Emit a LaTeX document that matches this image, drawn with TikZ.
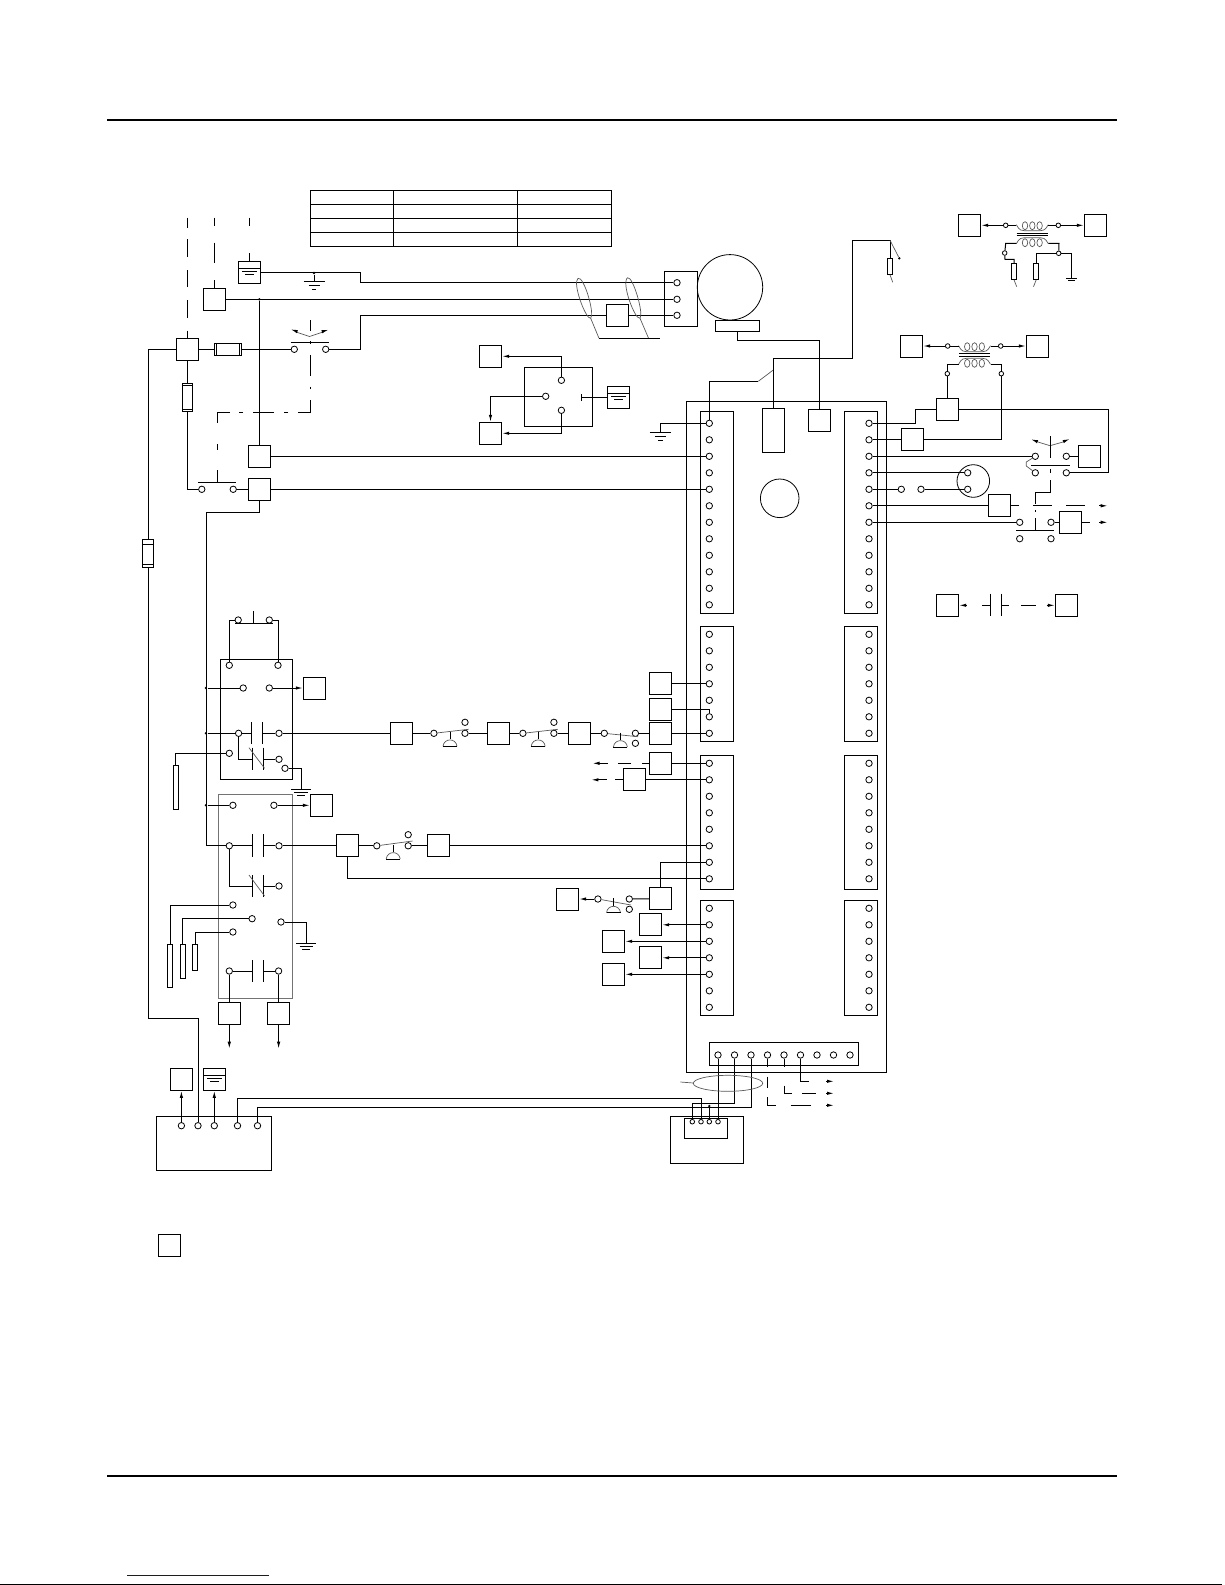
\documentclass[tikz,border=0pt]{standalone}
\usepackage{tikz}
\usetikzlibrary{arrows.meta,positioning,calc}
\tikzset{
  bx/.style={draw,rectangle,inner sep=0pt,minimum width=22.4pt,minimum height=22pt},
  rc/.style={draw,rectangle,inner sep=0pt},
  term/.style={draw,circle,inner sep=0pt,minimum size=6.4pt,line width=.8pt,fill=white},
  sterm/.style={draw,circle,inner sep=0pt,minimum size=4.6pt,line width=.8pt,fill=white},
  dot/.style={fill,circle,inner sep=0pt,minimum size=2.6pt},
  thinw/.style={line width=.7pt,black!65},
  tip/.style={-{Latex[length=7pt,width=3.4pt]}},
  gnd/.pic={\draw (-10.5,0)--(10.5,0) (-5.5,4.5)--(5.5,4.5) (-2.2,8.5)--(2.2,8.5);},
  gndb/.pic={\draw (-10,0)--(10,0) (-6.7,3)--(6.7,3) (-4,6)--(4,6);},
  gndc/.pic={\draw (-5.3,0)--(5.3,0) (-3.6,2)--(3.6,2);},
  tank/.pic={\draw (-11.2,-4)--(11.2,-4);\draw (-7.5,-.5)--(7.5,-.5) (-4.3,2.5)--(4.3,2.5);},
  dome/.pic={\draw (0,-7.5)--(0,0);\draw[thinw] (-7,7)..controls (-6,-1.5) and (6,-1.5)..(7,7);\draw[line width=.7pt] (-7,7)--(7,7);},
  coil/.pic={\draw[thinw] (-16,-1)..controls (-13,5) and (-10,5)..(-8,5)--(8,5)..controls (10,5) and (13,5)..(16,-1);
    \draw[thinw] (-7.3,0) ellipse (2.7 and 4) (0,0) ellipse (2.7 and 4) (7.3,0) ellipse (2.7 and 4);},
}
\begin{document}
\begin{tikzpicture}[x=1pt,y=-1pt,line width=1pt]
      \useasboundingbox (0,0) rectangle (1225,1585);
      \draw[line width=2pt] (107,120) -- (1117,120);
      \draw[line width=2pt] (107,1476) -- (1117,1476);
      \draw[line width=1.2pt] (0,1584.3) -- (1222,1584.3);
      \draw[blue,line width=1pt] (127,1575.3) -- (268.7,1575.3);
      \node[bx] (key) at (169.5,1245.5){};

      \draw (310.4,190) rectangle (611.8,246.7);
      \draw (310.4,204.3) -- (611.8,204.3) (310.4,218.3) -- (611.8,218.3) (310.4,232.3) -- (611.8,232.3);
      \draw (393.2,190) -- (393.2,246.7) (517.5,190) -- (517.5,246.7);

      \draw (187.5,217.7) -- (187.5,227.7) (187.5,239) -- (187.5,256.7) (187.5,270) -- (187.5,287) (187.5,300) -- (187.5,318) (187.5,330.7) -- (187.5,338);
      \draw (214.6,217.7) -- (214.6,226) (214.6,242.7) -- (214.6,263.3) (214.6,280) -- (214.6,288.3);
      \draw (249.6,217.7) -- (249.6,226) (249.6,253.3) -- (249.6,261.3);

      \node[bx] (pe1) at (249.5,272.3){};
      \pic at (pe1) {tank};
      \node[bx] (b1) at (214.5,299.3){};
      \node[bx] (b2) at (187.5,349.3){};
      \node[bx] (b3) at (259.3,456.3){};
      \node[bx] (b4) at (259.3,489.3){};
      \node[bx] (b5) at (617.5,315.3){};
      \node[rc,minimum width=27.5pt,minimum height=11.4pt] (fu1) at (228,349.3){};
      \node[rc,minimum width=10pt,minimum height=28pt] (fu2) at (187.5,397.3){};
      \node[rc,minimum width=11pt,minimum height=27.7pt] (fu3) at (148.2,553.8){};
      \draw (216.4,344) -- (216.4,355) (239.6,344) -- (239.6,355);
      \draw (183,385.7) -- (192,385.7) (183,409) -- (192,409);
      \draw (143,544) -- (153.5,544) (143,564) -- (153.5,564);

      \node[term] (sw1a) at (294.3,349.3){};
      \node[term] (sw1b) at (325.7,349.3){};
      \node[term] (sw2a) at (201.8,489.3){};
      \node[term] (sw2b) at (233.2,489.3){};
      \node[term] (tm1) at (677,282.7){};
      \node[term] (tm2) at (677,299.3){};
      \node[term] (tm3) at (677,315.3){};
      \node[dot] (j1) at (259.3,299.3){};
      \node[dot] (j2) at (314,273){};
      \draw (664.3,271) rectangle (697.7,326.3);
      \node[draw,circle,line width=.8pt,minimum size=65.4pt] (mot) at (730,287.3){};
      \node[rc,minimum width=44.4pt,minimum height=11.4pt] (mbase) at (737.5,326){};

      \draw (pe1) -- (360.4,272.3) -- (360.4,282.7) -- (tm1);
      \draw (j2) -- (314,281);
      \pic at (314,281) {gnd};
      \draw (b1) -- (tm2);
      \draw (j1) -- (b3);
      \draw (sw1b) -- (360.4,349.3) -- (360.4,315.3) -- (b5);
      \draw (b5) -- (tm3);
      \draw (b2) -- (fu1);
      \draw (fu1) -- (sw1a);
      \draw (b2) -- (fu2);
      \draw (fu2) |- (sw2a);
      \draw (sw2b) -- (b4);
      \draw (b2) -- (148.2,349.3) -- (fu3);
      \draw (290.7,342.3) -- (328.6,342.3);
      \draw (197.9,482.3) -- (236,482.3);
      \draw[thinw] (296,332) -- (309.6,336.5) -- (323,332);
      \draw[tip] (297,331.5) -- (290.7,329.3);
      \draw[tip] (322.5,331.5) -- (328.6,329.7);
      \draw (310.4,320) -- (310.4,330.7) (310.4,341) -- (310.4,343.5) (310.4,355) -- (310.4,376) (310.4,386.7) -- (310.4,389.3);
      \draw (310.4,400) -- (310.4,412.3) -- (298.3,412.3) (288.3,412.3) -- (284,412.3) (274,412.3) -- (253.3,412.3) (243,412.3) -- (239,412.3);
      \draw (230,412.3) -- (217.3,412.3) -- (217.3,423.3) (217.3,444) -- (217.3,450) (217.3,470) -- (217.3,482.3);

      \draw[thinw] (578,278.3) .. controls (572,283) and (586,320) .. (590.7,318.3) .. controls (595,314) and (584,276) .. (578,278.3);
      \draw[thinw] (627.5,277.7) .. controls (621,283) and (635,320) .. (640,318.3) .. controls (644,314) and (633,276) .. (627.5,277.7);
      \draw[thinw] (590.7,318.3) -- (599,338.3);
      \draw[thinw] (640,318.3) -- (648.6,338.3);
      \draw (599,338.3) -- (659.6,338.3);

      \draw (524.3,367.3) rectangle (592.5,426.3);
      \node[term] (ry1) at (561.4,380.3){};
      \node[term] (ry2) at (545.7,396.3){};
      \node[term] (ry3) at (561.4,410.3){};
      \node[bx] (pe2) at (618.5,397.3){};
      \pic at (pe2) {tank};
      \node[bx] (b6) at (490.5,356.3){};
      \node[bx] (b7) at (490.5,433.3){};
      \coordinate (rt) at (581.8,397.3);
      \draw (581.8,394) -- (581.8,400.7);
      \draw (rt) -- (pe2);
      \draw[tip] (ry1) -- (561.4,356.3) -- (b6);
      \draw[tip] (ry2) -| (b7);
      \draw[tip] (ry3) -- (561.4,433.3) -- (b7);

      \draw (686.3,401.3) rectangle (886.5,1072.3);
      \foreach \sx in {700.3,844.3}{
        \draw (\sx,411.3) rectangle (\sx+33,613.3);
        \draw (\sx,626.6) rectangle (\sx+33,741);
        \draw (\sx,755.3) rectangle (\sx+33,889.4);
        \draw (\sx,900.3) rectangle (\sx+33,1015.3);
      }
      \foreach \i in {0,...,11}{
        \node[term] (la\i) at (709.3,423.3+16.5*\i){};
        \node[term] (ra\i) at (869,423.3+16.5*\i){};
      }
      \foreach \i in {0,...,6}{
        \node[term] (lb\i) at (709.3,634.3+16.5*\i){};
        \node[term] (rb\i) at (869,634.3+16.5*\i){};
        \node[term] (ld\i) at (709.3,908.3+16.5*\i){};
        \node[term] (rd\i) at (869,908.3+16.5*\i){};
      }
      \foreach \i in {0,...,7}{
        \node[term] (lc\i) at (709.3,763.3+16.5*\i){};
        \node[term] (rc\i) at (869,763.3+16.5*\i){};
      }
      \draw (709.3,1042.3) rectangle (858.7,1065.3);
      \foreach \i in {0,...,8}{
        \node[term] (bs\i) at (718+16.5*\i,1055){};
      }

      \node[rc,minimum width=22pt,minimum height=44pt] (bg) at (773.3,430.3){};
      \node[bx] (bm) at (819.3,420.3){};
      \node[draw,circle,line width=.8pt,minimum size=38.6pt] (ci1) at (779.7,498.3){};
      \draw (b3) -- (la2);
      \draw (b4) -- (la4);
      \draw (mbase) -- (737.5,340.3) -- (819.3,340.3) -- (bm);
      \draw (la0) -- (660.4,423.3) -- (660.4,432.3);
      \pic at (660.4,432.3) {gnd};
      \draw (la0) -- (709.3,381.3) -- (758.3,381.3);
      \draw[thinw] (758.3,381.3) -- (773.3,370);
      \node[rc,minimum width=5pt,minimum height=16pt] (res1) at (890,266.3){};
      \node[dot] (j3) at (899.3,258.3){};
      \draw (bg) -- (773.3,358.3) -- (852.3,358.3) -- (852.3,240.3) -- (890,240.3) -- (res1);
      \draw[thinw] (890,240.3) -- (j3);
      \draw[thinw] (res1.south) -- (892.7,282.3);

      \node[bx] (t1a) at (969.5,225.3){};
      \node[bx] (t1b) at (1095.5,225.3){};
      \node[sterm] (t1c) at (1005.7,225.3){};
      \node[sterm] (t1d) at (1058.3,225.3){};
      \node[sterm] (t1e) at (1004.7,253){};
      \node[sterm] (t1f) at (1058.7,253.3){};
      \pic at (1032.3,225.7) {coil};
      \pic[yscale=-1] at (1032.3,242.7) {coil};
      \draw (1016.7,233) -- (1048,233) (1016.7,235.3) -- (1048,235.3);
      \draw[tip] (t1c) -- (t1a);
      \draw[tip] (t1d) -- (t1b);
      \draw (t1c) -- (1016.3,225.3);
      \draw (t1d) -- (1048.3,225.3);
      \draw (1016.3,243.3) -- (1005.7,243.3) -- (t1e);
      \draw (1048.3,243.3) -- (1059,243.3) -- (t1f);
      \node[rc,minimum width=4.6pt,minimum height=16pt] (res2) at (1014,271.3){};
      \node[rc,minimum width=5pt,minimum height=16pt] (res3) at (1036.2,271.3){};
      \draw (t1e) -- (1005,259.3) -- (1014,259.3) -- (res2);
      \draw (t1f) -- (1036.2,253.3) -- (res3);
      \draw (t1f) -- (1071.7,253.3) -- (1071.7,278.3);
      \pic at (1071.7,278.3) {gndc};
      \draw[thinw] (res2.south) -- (1016.7,286.7);
      \draw[thinw] (res3.south) -- (1033.5,286.7);

      \node[bx] (t2a) at (911.5,346){};
      \node[bx] (t2b) at (1037.5,346){};
      \node[sterm] (t2c) at (947.7,346){};
      \node[sterm] (t2d) at (1000.7,346){};
      \node[sterm] (t2e) at (947.3,373.7){};
      \node[sterm] (t2f) at (1001.3,373.7){};
      \pic at (974.5,346.7) {coil};
      \pic[yscale=-1] at (974.5,363.3) {coil};
      \draw (959,353.3) -- (990,353.3) (959,356) -- (990,356);
      \draw[tip] (t2c) -- (t2a);
      \draw[tip] (t2d) -- (t2b);
      \draw (t2c) -- (958.5,346);
      \draw (t2d) -- (990.5,346);
      \node[bx] (t2g) at (947.3,409.8){};
      \node[bx] (t2h) at (912.5,439.8){};
      \draw (t2g) -- (t2e);
      \draw (t2e) -- (947.3,364.3) -- (958.5,364.3);
      \draw (t2f) -- (1001.3,364.3) -- (990.5,364.3);
      \draw (t2f) -- (1001.3,439.8) -- (t2h);
      \draw (ra1) -- (t2h);
      \draw (ra0) -- (915.3,423.3) -- (915.3,409.8) -- (t2g);

      \node[term] (s3a) at (1035.3,456.3){};
      \node[term] (s3b) at (1066.3,456.3){};
      \node[term] (s3c) at (1035.3,472.8){};
      \node[term] (s3d) at (1066.3,472.8){};
      \node[bx] (b8) at (1089.5,456.3){};
      \draw (t2g) -- (1108.3,409.8) -- (1108.3,472.8) -- (s3d);
      \draw (ra2) -- (s3a);
      \draw (s3b) -- (b8);
      \draw[thinw] (s3a) -- (1026.3,462) -- (1026.3,466) -- (s3c);
      \draw (1031,465.7) -- (1069.7,465.7);
      \draw[thinw] (1038,442) -- (1050,445.7) -- (1063,442);
      \draw[tip] (1037,441.5) -- (1031,439.3);
      \draw[tip] (1063.5,441.5) -- (1069.7,439);
      \draw (1050.3,436) -- (1050.3,457.7) (1050.3,469.3) -- (1050.3,472.7);
      \draw (1050.3,480) -- (1050.3,492.3) -- (1035.3,492.3) -- (1035.3,504);
      \draw (1035.3,510) -- (1035.3,511.7) (1035.3,518) -- (1035.3,530.3);
      \draw (1016,530.3) -- (1053.7,530.3);

      \node[term] (m1) at (967.7,472.8){};
      \node[term] (m2) at (967.7,489.3){};
      \node[draw,circle,line width=.8pt,minimum size=32.6pt] (mc) at (973.3,481){};
      \node[term] (st1) at (901.3,489.3){};
      \node[term] (st2) at (921,489.3){};
      \draw (ra3) -- (m1);
      \draw (ra4) -- (st1);
      \draw (st2) -- (m2);

      \node[bx] (b9) at (999.5,505.8){};
      \node[term] (s4a) at (1019.7,522.3){};
      \node[term] (s4b) at (1051,522.3){};
      \node[term] (s4c) at (1019.7,538.7){};
      \node[term] (s4d) at (1051,538.7){};
      \node[bx] (b10) at (1070.5,522.3){};
      \draw (ra5) -- (b9);
      \draw (ra6) -- (s4a);
      \draw (s4b) -- (b10);
      \draw (b9) -- (1018.7,505.8) (1033.3,505.8) -- (1051.7,505.8) (1066,505.8) -- (1085,505.8);
      \draw (b10) -- (1090,522.3);
      \draw[tip] (1099.3,505.8) -- (1107.7,505.8);
      \draw[tip] (1099.3,522.3) -- (1107.7,522.3);

      \node[bx] (b11) at (947.5,605.3){};
      \node[bx] (b12) at (1066.5,605.3){};
      \draw[tip] (966,605.3) -- (b11);
      \draw (982,605.3) -- (990.3,605.3) (990.3,593.7) -- (990.3,616) (1001.3,593.7) -- (1001.3,616) (1001.3,605.3) -- (1008.7,605.3) (1021,605.3) -- (1036,605.3);
      \draw[tip] (1046.7,605.3) -- (b12);

      \node[bx] (lv1) at (660.5,683.8){};
      \node[bx] (lv2) at (660.5,709.3){};
      \node[bx] (lv3) at (660.5,733.3){};
      \node[bx] (lv4) at (660.5,763.3){};
      \node[bx] (lv5) at (634.5,779.8){};
      \draw (lv1) -- (lb3);
      \draw (lv2) -- (709.3,709.3) -- (lb5);
      \draw (lv3) -- (lb6);
      \draw (lv4) -- (lc0);
      \draw (lv5) -- (lc1);
      \draw (lv4) -- (641.8,763.3) (631,763.3) -- (617.9,763.3);
      \draw[tip] (607.9,763.3) -- (592.5,763.3);
      \draw (lv5) -- (615,779.8);
      \draw[tip] (606.8,779.8) -- (591.4,779.8);

      \draw (220.7,659.3) rectangle (292.5,779.3);
      \draw[black!55,line width=.8pt] (217.9,794.3) rectangle (292.5,998.3);
      \node[term] (pb1) at (238.2,620){};
      \node[term] (pb2) at (269.3,620){};
      \node[term] (k1) at (229.3,665.3){};
      \node[term] (k2) at (278,665.3){};
      \draw (235.4,623.3) -- (272.9,623.3) (253.2,611) -- (253.2,623.3);
      \draw (pb1) -- (229.3,620) -- (k1);
      \draw (pb2) -- (278,620) -- (k2);

      \node[dot] (j4) at (205.9,688){};
      \node[dot] (j5) at (205.9,733.3){};
      \node[dot] (j6) at (205.9,805.3){};
      \node[term] (k3) at (243.2,688){};
      \node[term] (k4) at (269.3,688){};
      \node[bx] (b13) at (314.5,688){};
      \draw (j4) -- (k3);
      \draw[tip] (k4) -- (b13);
      \node[term] (k5) at (238.6,733.3){};
      \node[term] (k6) at (279,733.3){};
      \node[term] (k7) at (229.3,753.3){};
      \node[term] (k8) at (279,759.3){};
      \node[term] (k9) at (285,768.3){};
      \draw (j5) -- (k5);
      \draw (k5) -- (251.4,733.3) (262.5,733.3) -- (k6);
      \draw (251.4,722.3) -- (251.4,744.3) (262.5,722.3) -- (262.5,744.3);
      \draw (k5) -- (238.6,759.3) -- (252.5,759.3) (263.6,759.3) -- (k8);
      \draw (252.5,747.7) -- (252.5,770) (263.6,747.7) -- (263.6,770);
      \draw[thinw] (249,747.7) -- (264.6,768.3);
      \node[rc,minimum width=5pt,minimum height=44pt] (pr1) at (175.7,787.3){};
      \draw (k7) -- (175.7,753.3) -- (pr1);
      \draw (k9) -- (301.4,768.3) -- (301.4,789.3);
      \pic at (301,789.3) {gndb};

      \node[bx] (b14) at (401.5,733.3){};
      \node[term] (p1a) at (433.9,733.3){};
      \node[term] (p1b) at (465,733.3){};
      \node[term] (p1c) at (465,722.3){};
      \node[bx] (b15) at (498.5,733.3){};
      \node[term] (p2a) at (522.9,733.3){};
      \node[term] (p2b) at (553.9,733.3){};
      \node[term] (p2c) at (553.9,722.3){};
      \node[bx] (b16) at (579.5,733.3){};
      \node[term] (p3a) at (604.3,733.3){};
      \node[term] (p3b) at (635.4,733.3){};
      \node[term] (p3c) at (635.4,743.3){};
      \draw (k6) -- (b14);
      \draw (b14) -- (p1a);
      \draw (p1b) -- (b15);
      \draw (b15) -- (p2a);
      \draw (p2b) -- (b16);
      \draw (b16) -- (p3a);
      \draw (p3b) -- (lv3);
      \draw[thinw] (p1a) -- (468.6,729.3);
      \draw[thinw] (p2a) -- (557.9,729.3);
      \draw[thinw] (p3a) -- (638.2,736.7);
      \pic at (450,739.3) {dome};
      \pic at (538.2,739.3) {dome};
      \pic at (620.4,740) {dome};

      \node[term] (k10) at (232.9,805.3){};
      \node[term] (k11) at (273.9,805.3){};
      \node[bx] (b17) at (321.5,805.3){};
      \draw (j6) -- (k10);
      \draw[tip] (k11) -- (b17);
      \node[term] (k12) at (229.3,845.8){};
      \node[term] (k13) at (279,845.8){};
      \draw (b4) -- (259.3,512.3) -- (206.4,512.3) -- (206.4,845.8) -- (k12);
      \draw (k12) -- (252.5,845.8) (263.6,845.8) -- (k13);
      \draw (252.5,834) -- (252.5,856.7) (263.6,834) -- (263.6,856.7);
      \node[bx] (b18) at (347.5,845.8){};
      \node[term] (p4a) at (376.8,845.8){};
      \node[term] (p4b) at (408.2,845.8){};
      \node[term] (p4c) at (408.2,834.7){};
      \node[bx] (b19) at (438.5,845.8){};
      \draw (k13) -- (b18);
      \draw (b18) -- (p4a);
      \draw (p4b) -- (b19);
      \draw (b19) -- (lc5);
      \draw[thinw] (p4a) -- (412.5,841);
      \pic at (393.2,852) {dome};
      \draw (b18) -- (347.5,878.8) -- (lc7);

      \node[bx] (b20) at (660.5,898.8){};
      \node[term] (p5a) at (597.9,899){};
      \node[term] (p5b) at (629.3,899){};
      \node[term] (p5c) at (629.3,909.3){};
      \node[bx] (b21) at (567.5,899){};
      \draw (b20) -- (660.5,862.3) -- (lc6);
      \draw (b20) -- (p5b);
      \draw[tip] (p5a) -- (b21);
      \draw[thinw] (p5a) -- (631,905);
      \pic at (613.5,905.7) {dome};

      \node[bx] (b22) at (650.5,924.8){};
      \node[bx] (b23) at (613.5,941.3){};
      \node[bx] (b24) at (650.5,957.8){};
      \node[bx] (b25) at (613.5,974.3){};
      \draw[tip] (ld1) -- (b22);
      \draw[tip] (ld2) -- (b23);
      \draw[tip] (ld3) -- (b24);
      \draw[tip] (ld4) -- (b25);

      \node[term] (k14) at (279,886){};
      \draw (k12) -- (229.3,886) -- (252.5,886) (263.6,886) -- (k14);
      \draw (252.5,875) -- (252.5,897.3) (263.6,875) -- (263.6,897.3);
      \draw[thinw] (249,875) -- (264.6,896);
      \node[term] (k15) at (232.9,905){};
      \node[term] (k16) at (252.1,918.7){};
      \node[term] (k17) at (232.9,932){};
      \node[term] (k18) at (281,922){};
      \node[rc,minimum width=5pt,minimum height=43pt] (pr2) at (170,965.8){};
      \node[rc,minimum width=5pt,minimum height=34pt] (pr3) at (182.9,961.3){};
      \node[rc,minimum width=5pt,minimum height=26pt] (pr4) at (195,957.3){};
      \draw (k15) -- (170,905) -- (pr2);
      \draw (k16) -- (182.9,918.7) -- (pr3);
      \draw (k17) -- (195,932) -- (pr4);
      \draw (k18) -- (306.4,922) -- (306.4,943.3);
      \pic at (306.4,943.3) {gndb};
      \node[term] (k19) at (229.3,971){};
      \node[term] (k20) at (278.6,971){};
      \draw (k19) -- (252.5,971) (263.6,971) -- (k20);
      \draw (252.5,960) -- (252.5,981.7) (263.6,960) -- (263.6,981.7);
      \node[bx] (b26) at (229.3,1013.3){};
      \node[bx] (b27) at (278.6,1013.3){};
      \coordinate (e1) at (229.3,1048.7);
      \coordinate (e2) at (278.6,1048.7);
      \draw (k19) -- (b26);
      \draw (k20) -- (b27);
      \draw[tip] (b26) -- (e1);
      \draw[tip] (b27) -- (e2);

      \draw (156.4,1116.3) rectangle (271.4,1170.3);
      \node[term] (c1) at (181.4,1125.7){};
      \node[term] (c2) at (198,1125.7){};
      \node[term] (c3) at (214.3,1125.7){};
      \node[term] (c4) at (237.5,1125.7){};
      \node[term] (c5) at (257.5,1125.7){};
      \node[bx] (b28) at (181.4,1079.3){};
      \node[bx] (pe3) at (214.3,1079.3){};
      \pic at (pe3) {tank};
      \draw[tip] (c1) -- (b28);
      \draw[tip] (c3) -- (pe3);
      \draw (fu3) -- (148.2,1018.3) -- (198,1018.3) -- (c2);

      \draw (670.3,1116.3) rectangle (743.3,1163.3);
      \draw (684.3,1118.3) rectangle (727.3,1138.3);
      \node[sterm] (d1) at (692.3,1121.7){};
      \node[sterm] (d2) at (701,1121.7){};
      \node[sterm] (d3) at (709.3,1121.7){};
      \node[sterm] (d4) at (718,1121.7){};
      \node[dot] (j7) at (709.3,1106){};
      \draw (c4) -- (237.5,1098.5) -- (701,1098.5) -- (d2);
      \draw (c5) -- (257.5,1107.3) -- (751,1107.3) -- (bs2);
      \draw (bs1) -- (734.5,1103.3) -- (692.3,1103.3) -- (d1);
      \draw (bs0) -- (d4);
      \draw (j7) -- (d3);
      \draw[thinw] (728,1083.3) ellipse (34.7 and 8);
      \draw[thinw] (680.3,1082) -- (693.3,1083);

      \draw (bs3) -- (767.5,1066.7);
      \draw (bs4) -- (784,1066.7);
      \draw (bs5) -- (800.5,1081.3) -- (809,1081.3);
      \draw (767.5,1076.7) -- (767.5,1087.7) (767.5,1097.3) -- (767.5,1105.3) -- (776,1105.3) (790.7,1105.3) -- (810.7,1105.3);
      \draw (784.2,1085.7) -- (784.2,1093.3) -- (791.7,1093.3) (802.3,1093.3) -- (815.7,1093.3);
      \draw[tip] (826,1081.3) -- (834,1081.3);
      \draw[tip] (826,1093.3) -- (834,1093.3);
      \draw[tip] (826,1105.3) -- (834,1105.3);
\end{tikzpicture}
\end{document}
